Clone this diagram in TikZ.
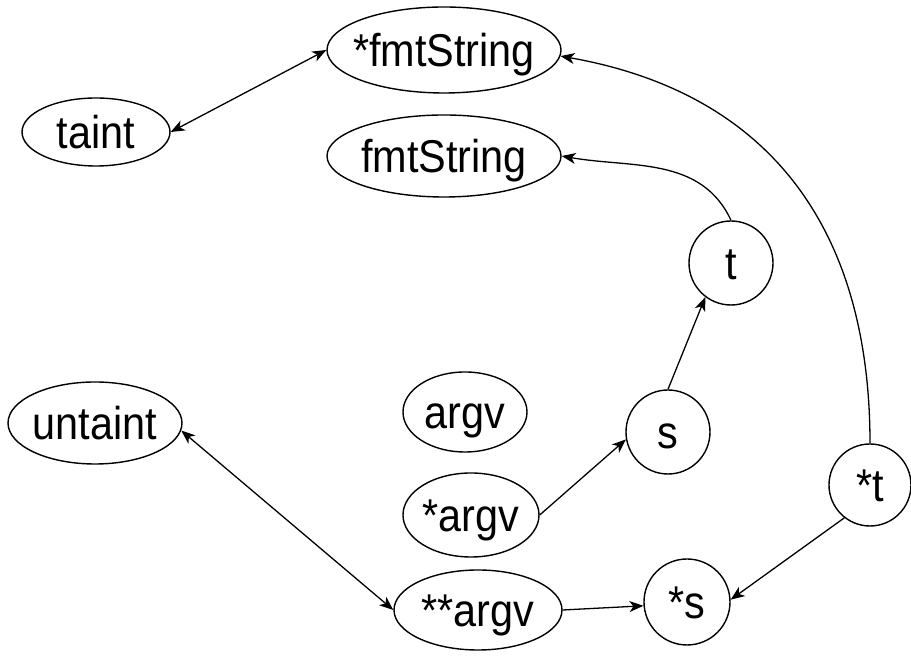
\documentclass[tikz,border=0pt]{standalone}
\usepackage{fontspec}
\setmainfont{Liberation Sans}[FakeStretch=0.9]
\usetikzlibrary{shapes.geometric,arrows.meta}
\tikzset{
  txt/.style={font=\fontsize{46}{50}\selectfont, text height=33pt, text depth=0pt, inner sep=0pt},
  oval/.style={ellipse, draw, line width=1.4pt, inner sep=0pt},
  rnd/.style={circle, draw, line width=1.4pt, inner sep=0pt, minimum size=84pt, txt},
  arr/.style={line width=1.3pt, -{Stealth[length=14pt,width=11pt,inset=4pt]}},
  darr/.style={line width=1.3pt, {Stealth[length=14pt,width=11pt,inset=4pt]}-{Stealth[length=14pt,width=11pt,inset=4pt]}}
}
\begin{document}
\begin{tikzpicture}[x=1pt,y=1pt]
\useasboundingbox[fill=white] (0,0) rectangle (911,658);
% ellipses
\node[oval, minimum width=234pt, minimum height=86pt, label={[txt]center:*fmtString}] (fmtS) at (444,608) {};
\node[oval, minimum width=234pt, minimum height=82pt, label={[txt]center:fmtString}] (fmt) at (444,502) {};
\node[oval, minimum width=148pt, minimum height=68pt, label={[txt]center:taint}] (taint) at (96,526) {};
\node[oval, minimum width=174pt, minimum height=82pt, label={[txt]center:untaint}] (untaint) at (95,235) {};
\node[oval, minimum width=124pt, minimum height=80pt, label={[txt]center:argv}] (argv) at (465,246) {};
\node[oval, minimum width=136pt, minimum height=84pt, label={[txt]center:*argv}] (argv1) at (471,143) {};
\node[oval, minimum width=168pt, minimum height=80pt, label={[txt]center:**argv}] (argv2) at (478,48) {};
% circles
\node[rnd] (t) at (731,395) {t};
\node[rnd] (s) at (668,226) {s};
\node[rnd, minimum size=82pt] (st) at (870,173) {*t};
\node[rnd, minimum size=86pt] (ss) at (687,56) {*s};
% connectors
\draw[darr] (taint.east) -- (fmtS.west);
\draw[darr] (untaint.-5) -- (argv2.west);
\draw[arr] (argv1.east) -- (s.190);
\draw[arr] (s.north) -- (t.233);
\draw[arr] (t.north) to[out=115,in=-10] (fmt.east);
\draw[arr] (st.north) to[out=90,in=-10,looseness=1.1] (fmtS.-3);
\draw[arr] (argv2.east) -- (ss.185);
\draw[arr] (st.232) -- (ss.3);
\end{tikzpicture}
\end{document}
